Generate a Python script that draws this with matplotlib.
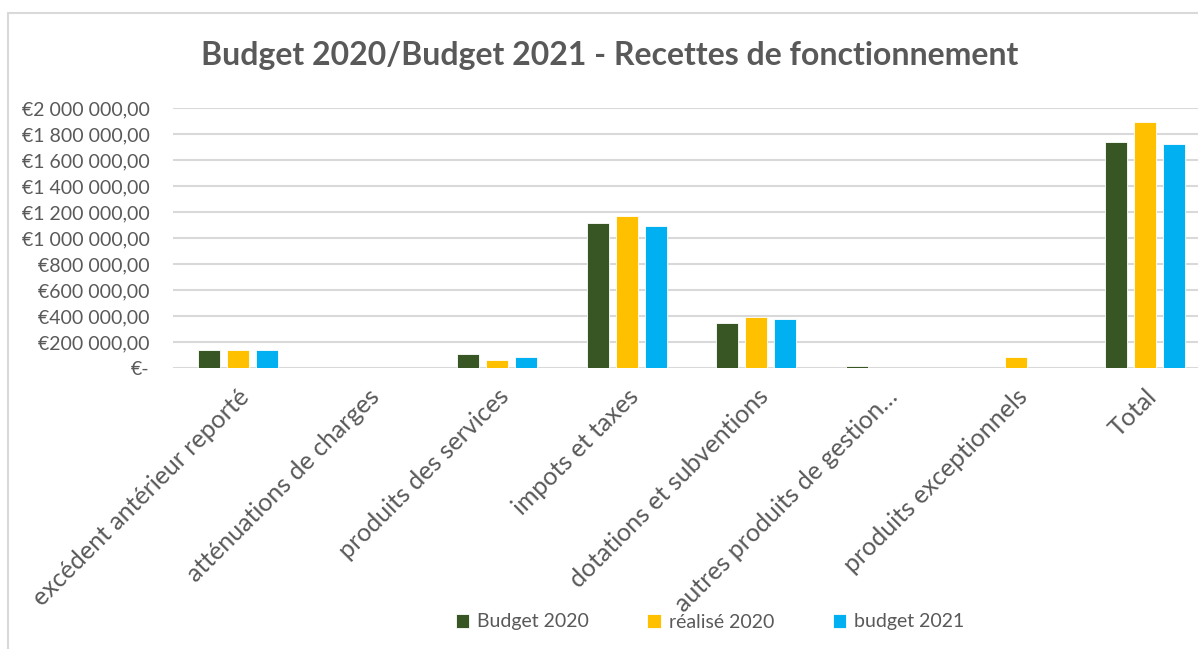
import numpy as np
import matplotlib.pyplot as plt
from matplotlib.patches import Rectangle
from matplotlib.ticker import FuncFormatter

# recettes de fonctionnement (en euros)
categories = ["excédent antérieur reporté", "atténuations de charges",
              "produits des services", "impots et taxes",
              "dotations et subventions", "autres produits de gestion…",
              "produits exceptionnels", "Total"]
budget_2020 = [135000, 0, 108000, 1113000, 348000, 15000, 0, 1738000]
realise_2020 = [135000, 0, 59000, 1169000, 395000, 0, 87000, 1889000]
budget_2021 = [135000, 0, 87000, 1095000, 375000, 0, 0, 1723000]

series = [("Budget 2020", budget_2020, "#375623"),
          ("réalisé 2020", realise_2020, "#FFC000"),
          ("budget 2021", budget_2021, "#00B0F0")]

plt.rcParams['font.family'] = ['Lato', 'DejaVu Sans']
grey = "#595959"

fig = plt.figure(figsize=(11.98, 6.49), dpi=100)
# cadre du graphique
fig.patches.append(Rectangle((8/1198, -0.1), 1.2, (649-13)/649 + 0.1,
                             transform=fig.transFigure, fill=False,
                             edgecolor="#D9D9D9", linewidth=1.5))

ax = fig.add_axes([173/1198, 1-368/649, (1210-173)/1198, (368-108)/649])
x = np.arange(len(categories))
w = 0.17
for i, (name, vals, col) in enumerate(series):
    ax.bar(x + (i-1)*0.225, vals, w, color=col, edgecolor="white",
           linewidth=0.6, label=name, zorder=3)

ax.set_xlim(-0.5, len(categories)-0.5)
ax.set_ylim(0, 2000000)
ax.set_yticks(np.arange(0, 2000001, 200000))

def euro(v, pos):
    if v == 0:
        return "€-"
    s = f"{int(v):,}".replace(",", " ")
    return "€" + s + ",00"

ax.yaxis.set_major_formatter(FuncFormatter(euro))
ax.grid(axis='y', color="#D9D9D9", linewidth=1.5, zorder=0)
for s in ax.spines.values():
    s.set_visible(False)
ax.tick_params(length=0, colors=grey, labelsize=14)
ax.tick_params(axis='y', pad=17)
ax.set_xticks(x)
ax.set_xticklabels(categories, rotation=45, ha='right', rotation_mode='anchor',
                   fontsize=18, color=grey)
ax.tick_params(axis='x', pad=12)

fig.text(610/1198, 1-56/649, "Budget 2020/Budget 2021 - Recettes de fonctionnement",
         ha='center', va='center', fontsize=23, fontweight='bold', color=grey)

leg = fig.legend(loc='center', bbox_to_anchor=(710/1198, 1-622/649), ncol=3,
                 frameon=False, fontsize=14, handlelength=0.7, handleheight=0.7,
                 handletextpad=0.4, columnspacing=3.0)
for t in leg.get_texts():
    t.set_color(grey)

fig.savefig("out.png", dpi=100)
